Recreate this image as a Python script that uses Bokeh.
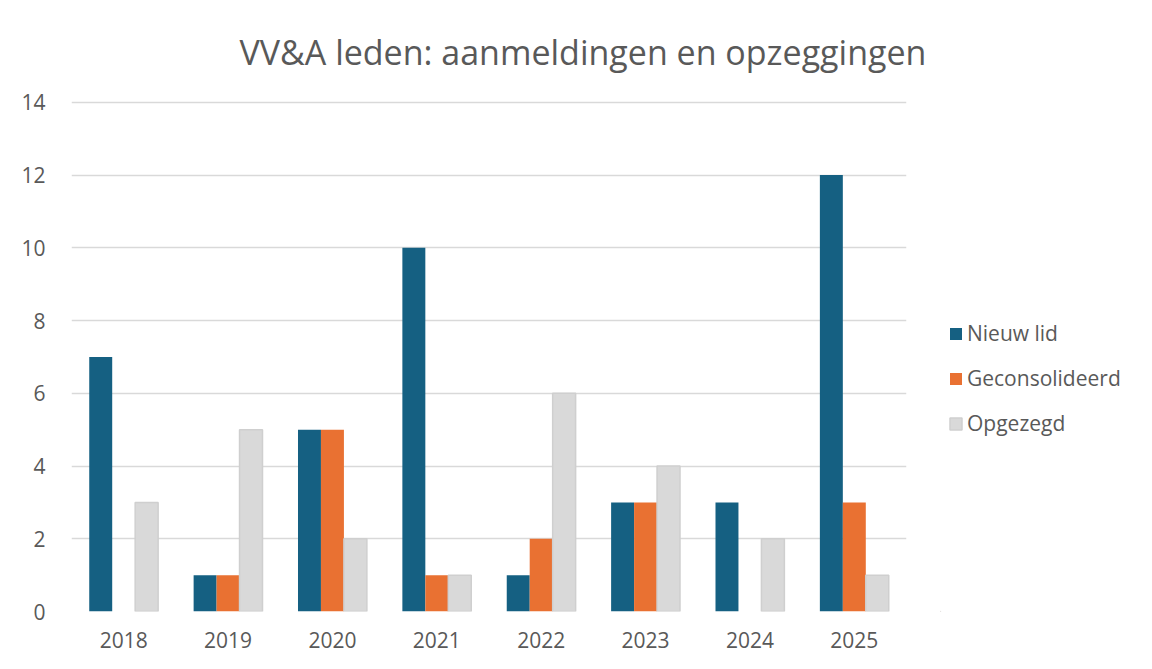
from bokeh.plotting import figure
from bokeh.models import ColumnDataSource, FactorRange, Legend, LegendItem, Range1d, FixedTicker
from bokeh.layouts import row
from bokeh.transform import dodge
from bokeh.embed import file_html
from bokeh.resources import INLINE

years = ["2018", "2019", "2020", "2021", "2022", "2023", "2024", "2025"]
nieuw_lid = [7, 1, 5, 10, 1, 3, 3, 12]
geconsolideerd = [0, 1, 5, 1, 2, 3, 0, 3]
opgezegd = [3, 5, 2, 1, 6, 4, 2, 1]
series_names = ["Nieuw lid", "Geconsolideerd", "Opgezegd"]
y_ticks = [0, 2, 4, 6, 8, 10, 12, 14]

src = ColumnDataSource(dict(years=years, a=nieuw_lid, b=geconsolideerd, c=opgezegd))

FONT = "Open Sans"
TXT = "#595959"
COLORS = ["#156082", "#E97132", "#D9D9D9"]
LINES = [None, None, "#CFCFCF"]

p = figure(x_range=FactorRange(*years, range_padding=0), y_range=Range1d(0, 14.05),
           width=940, height=653, output_backend="svg", toolbar_location=None,
           min_border_left=71, min_border_right=34, min_border_top=100, min_border_bottom=42)
p.outline_line_color = None
p.background_fill_color = "white"
p.border_fill_color = "white"

p.title.text = "VV&A leden: aanmeldingen en opzeggingen"
p.title.text_font = FONT
p.title.text_font_size = "34px"
p.title.text_font_style = "normal"
p.title.text_color = TXT
p.title.align = "left"
p.title.offset = 168
p.title.standoff = 52

w = 0.22
for col, off, fc, lc in zip(["a", "b", "c"], [-w, 0, w], COLORS, LINES):
    p.vbar(x=dodge("years", off, range=p.x_range), top=col, width=w, source=src,
           fill_color=fc, line_color=lc, line_width=1.5)

p.xgrid.grid_line_color = None
p.ygrid.grid_line_color = "#D9D9D9"
p.ygrid.grid_line_width = 1.5
p.yaxis.ticker = FixedTicker(ticks=y_ticks)

for ax in (p.xaxis[0], p.yaxis[0]):
    ax.axis_line_color = None
    ax.major_tick_line_color = None
    ax.minor_tick_line_color = None
    ax.major_label_text_font = FONT
    ax.major_label_text_font_size = "21px"
    ax.major_label_text_color = TXT
p.xaxis.major_label_standoff = 14
p.yaxis.major_label_standoff = 20

# legend panel (swatches drawn from off-screen copies of the series glyphs)
q = figure(x_range=Range1d(0, 1), y_range=Range1d(0, 1), width=196, height=653,
           output_backend="svg", toolbar_location=None, x_axis_type=None, y_axis_type=None,
           min_border_left=0, min_border_right=0, min_border_top=0, min_border_bottom=0)
q.outline_line_color = None
q.border_fill_color = "white"
q.xgrid.grid_line_color = None
q.ygrid.grid_line_color = None
dummy = ColumnDataSource(dict(x=[-10], top=[-10]))
leg_renderers = []
for fc, lc in zip(COLORS, LINES):
    leg_renderers.append(q.vbar(x="x", top="top", bottom=-11, width=0.1, source=dummy,
                                fill_color=fc, line_color=lc, line_width=1.5))

legend = Legend(items=[LegendItem(label=n, renderers=[r]) for n, r in zip(series_names, leg_renderers)],
                location=(8, 174), border_line_color=None, background_fill_alpha=0,
                label_text_font=FONT, label_text_font_size="21px", label_text_color=TXT,
                glyph_width=15, glyph_height=15, label_height=22, spacing=17,
                label_standoff=4, padding=9, margin=0)
q.add_layout(legend, "center")

layout = row(p, q, spacing=0)
open("out.html", "w").write(file_html(layout, INLINE))
